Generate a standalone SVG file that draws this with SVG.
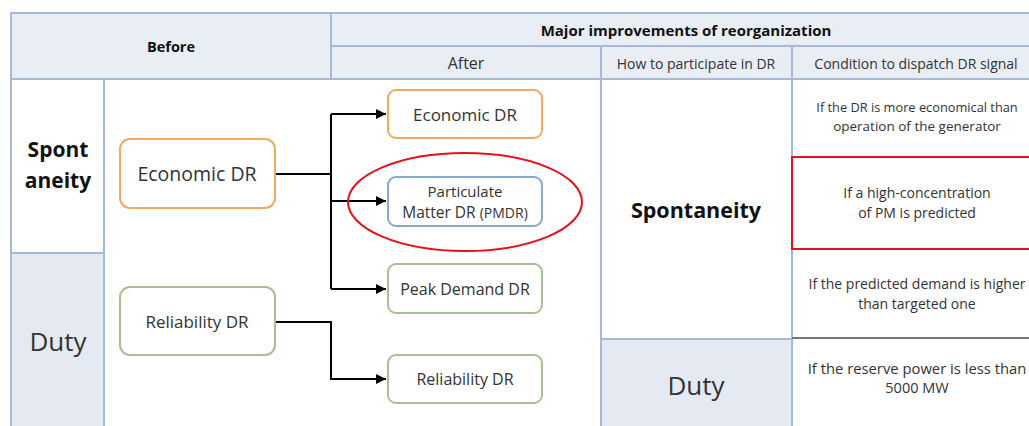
<svg xmlns="http://www.w3.org/2000/svg" width="1029" height="426" viewBox="0 0 1029 426">
<defs>
<marker id="arr" viewBox="0 0 10 10" refX="10" refY="5" markerWidth="5" markerHeight="5" markerUnits="strokeWidth" orient="auto"><path d="M0,0 L10,5 L0,10 z" fill="#000"/></marker>
<style>
.hdr{fill:#e9edf4;stroke:#a5bad6;stroke-width:2}
.cell{fill:#ffffff;stroke:#a5bad6;stroke-width:2}
.duty{fill:#e5eaf2;stroke:#a5bad6;stroke-width:2}
.t{font-family:"Open Sans","Liberation Sans",sans-serif;fill:#333;text-anchor:middle}
.b{font-weight:bold;fill:#111}
.c{font-size:14px}
.node{fill:#fff;stroke-width:2}
.or{stroke:#f5a860}
.gr{stroke:#a9c094}
.bl{stroke:#8aa7cc}
.con{fill:none;stroke:#000;stroke-width:2}
</style>
</defs>
<g id="table">
<rect class="hdr" x="11" y="13" width="320" height="66"/>
<rect class="hdr" x="331" y="13" width="710" height="33"/>
<rect class="hdr" x="331" y="46" width="270" height="33"/>
<rect class="hdr" x="601" y="46" width="191" height="33"/>
<rect class="hdr" x="792" y="46" width="249" height="33"/>
<rect class="cell" x="11" y="79" width="93" height="174"/>
<rect class="duty" x="11" y="253" width="93" height="180"/>
<rect class="cell" x="104" y="79" width="497" height="360"/>
<rect class="cell" x="601" y="79" width="191" height="260"/>
<rect class="duty" x="601" y="339" width="191" height="100"/>
<line x1="792" y1="249" x2="1029" y2="249" stroke="#555" stroke-width="2"/>
<line x1="792" y1="338" x2="1029" y2="338" stroke="#777" stroke-width="2"/>
<rect x="792" y="157" width="250" height="92" fill="none" stroke="#e8101e" stroke-width="2"/>
</g>
<g id="headers">
<text class="t b" x="171" y="52" font-size="14.5">Before</text>
<text class="t b" x="686" y="36" font-size="15">Major improvements of reorganization</text>
<text class="t" x="466" y="69" font-size="16">After</text>
<text class="t" x="696" y="69" font-size="14">How to participate in DR</text>
<text class="t" x="916" y="69" font-size="14">Condition to dispatch DR signal</text>
<text class="t b" x="58" y="157" font-size="21">Spont</text>
<text class="t b" x="58" y="188" font-size="21">aneity</text>
<text class="t" x="58" y="351" font-size="26" fill="#111">Duty</text>
<text class="t b" x="696" y="218" font-size="21.5">Spontaneity</text>
<text class="t" x="696" y="395" font-size="26" fill="#111">Duty</text>
<text class="t" x="917" y="112" font-size="12.8">If the DR is more economical than</text>
<text class="t" x="917" y="131" font-size="13.5">operation of the generator</text>
<text class="t c" x="917" y="198">If a high-concentration</text>
<text class="t c" x="917" y="218">of PM is predicted</text>
<text class="t c" x="917" y="289">If the predicted demand is higher</text>
<text class="t c" x="917" y="309">than targeted one</text>
<text class="t" x="917" y="374" font-size="14.8">If the reserve power is less than</text>
<text class="t" x="917" y="393" font-size="14.5">5000 MW</text>
</g>
<g id="connectors">
<path class="con" d="M275,174 H331" stroke-width="3"/>
<path class="con" d="M331,114 V289"/>
<path class="con" d="M331,114 H386" marker-end="url(#arr)"/>
<path class="con" d="M331,201 H386" marker-end="url(#arr)"/>
<path class="con" d="M331,289 H386" marker-end="url(#arr)"/>
<path class="con" d="M275,322 H331 V379 H386" marker-end="url(#arr)"/>
</g>
<g id="node-economic-before">
<rect class="node or" x="120" y="139" width="155" height="69" rx="10"/>
<text class="t" x="197" y="181" font-size="19.5">Economic DR</text>
</g>
<g id="node-reliability-before">
<rect class="node gr" x="120" y="287" width="155" height="68" rx="10"/>
<text class="t" x="197" y="328" font-size="17">Reliability DR</text>
</g>
<g id="node-economic-after">
<rect class="node or" x="388" y="90" width="154" height="48" rx="8"/>
<text class="t" x="465" y="121" font-size="17">Economic DR</text>
</g>
<g id="node-pmdr">
<rect class="node bl" x="388" y="177" width="154" height="49" rx="8"/>
<text class="t" x="465" y="197" font-size="15">Particulate</text>
<text class="t" x="465" y="218" font-size="15.5">Matter DR <tspan font-size="14">(PMDR)</tspan></text>
</g>
<g id="node-peak">
<rect class="node gr" x="388" y="264" width="154" height="49" rx="8"/>
<text class="t" x="465" y="295" font-size="16">Peak Demand DR</text>
</g>
<g id="node-reliability-after">
<rect class="node gr" x="388" y="355" width="154" height="48" rx="8"/>
<text class="t" x="465" y="385" font-size="16">Reliability DR</text>
</g>
<ellipse id="highlight" cx="465" cy="202" rx="117" ry="49" fill="none" stroke="#e8101e" stroke-width="2"/>
</svg>
